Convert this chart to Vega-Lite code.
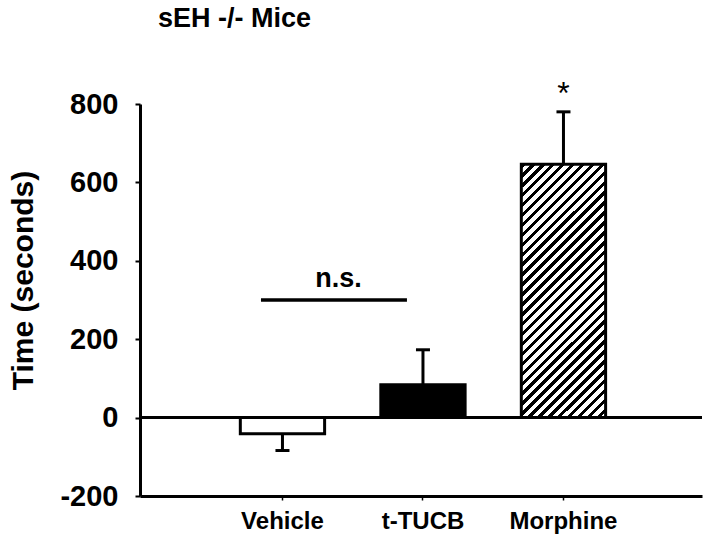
{
"$schema": "https://vega.github.io/schema/vega-lite/v6.json",
"width": 562,
"height": 392,
"autosize": "none",
"padding": {"left": 140, "top": 104, "right": 12, "bottom": 48},
"background": "white",
"title": {"text": "sEH -/- Mice", "anchor": "start", "frame": "group", "dx": 18, "offset": 24, "baseline": "alphabetic", "fontSize": 27, "font": "Liberation Sans", "fontWeight": "bold", "color": "black"},
"config": {
  "view": {"stroke": null},
  "axis": {"grid": false, "domainColor": "black", "tickColor": "black", "labelColor": "black", "titleColor": "black", "labelFont": "Liberation Sans", "titleFont": "Liberation Sans"}
},
"data": {"values": [
  {"group": "Vehicle", "time": -41, "err": -84},
  {"group": "t-TUCB", "time": 84, "err": 173},
  {"group": "Morphine", "time": 646, "err": 780}
]},
"layer": [
  {
    "transform": [{"filter": "datum.group !== 'Morphine'"}],
    "mark": {"type": "bar", "stroke": "black", "strokeWidth": 3},
    "encoding": {
      "x": {"field": "group", "type": "nominal", "title": null, "sort": ["Vehicle", "t-TUCB", "Morphine"],
        "scale": {"domain": ["Vehicle", "t-TUCB", "Morphine"], "paddingInner": 0.4, "paddingOuter": 0.7, "align": 0.51},
        "axis": {"labelFontSize": 24, "labelFontWeight": "bold", "labelPadding": 9, "tickSize": 4, "tickWidth": 1.5, "domainWidth": 3, "labelAngle": 0}},
      "y": {"field": "time", "type": "quantitative", "title": "Time (seconds)",
        "scale": {"domain": [-200, 800], "nice": false, "zero": false},
        "axis": {"values": [-200, 0, 200, 400, 600, 800], "labelExpr": "'' + datum.value", "labelFontSize": 29, "labelFontWeight": "bold", "labelPadding": 17, "tickSize": 5, "tickWidth": 2, "domainWidth": 3, "titleFontSize": 30, "titleFontWeight": "bold", "titleX": -108, "titleY": 176, "titleAngle": 270, "titleBaseline": "alphabetic", "titleAlign": "center"}},
      "fill": {"field": "group", "type": "nominal", "scale": {"domain": ["Vehicle", "t-TUCB"], "range": ["white", "black"]}, "legend": null}
    }
  },
  {
    "transform": [{"filter": "datum.group === 'Morphine'"}],
    "mark": {"type": "bar", "stroke": "black", "strokeWidth": 3,
      "fill": {"gradient": "linear", "x1": 0, "y1": 0, "x2": 0.3988, "y2": 1.1998, "stops": [
        {"offset":0,"color":"#000"},{"offset":0.01324,"color":"#000"},{"offset":0.01324,"color":"#fff"},{"offset":0.02941,"color":"#fff"},
        {"offset":0.02941,"color":"#000"},{"offset":0.04265,"color":"#000"},{"offset":0.04265,"color":"#fff"},{"offset":0.05882,"color":"#fff"},
        {"offset":0.05882,"color":"#000"},{"offset":0.07206,"color":"#000"},{"offset":0.07206,"color":"#fff"},{"offset":0.08824,"color":"#fff"},
        {"offset":0.08824,"color":"#000"},{"offset":0.10148,"color":"#000"},{"offset":0.10148,"color":"#fff"},{"offset":0.11765,"color":"#fff"},
        {"offset":0.11765,"color":"#000"},{"offset":0.13089,"color":"#000"},{"offset":0.13089,"color":"#fff"},{"offset":0.14706,"color":"#fff"},
        {"offset":0.14706,"color":"#000"},{"offset":0.1603,"color":"#000"},{"offset":0.1603,"color":"#fff"},{"offset":0.17647,"color":"#fff"},
        {"offset":0.17647,"color":"#000"},{"offset":0.18971,"color":"#000"},{"offset":0.18971,"color":"#fff"},{"offset":0.20588,"color":"#fff"},
        {"offset":0.20588,"color":"#000"},{"offset":0.21912,"color":"#000"},{"offset":0.21912,"color":"#fff"},{"offset":0.23529,"color":"#fff"},
        {"offset":0.23529,"color":"#000"},{"offset":0.24853,"color":"#000"},{"offset":0.24853,"color":"#fff"},{"offset":0.26471,"color":"#fff"},
        {"offset":0.26471,"color":"#000"},{"offset":0.27795,"color":"#000"},{"offset":0.27795,"color":"#fff"},{"offset":0.29412,"color":"#fff"},
        {"offset":0.29412,"color":"#000"},{"offset":0.30736,"color":"#000"},{"offset":0.30736,"color":"#fff"},{"offset":0.32353,"color":"#fff"},
        {"offset":0.32353,"color":"#000"},{"offset":0.33677,"color":"#000"},{"offset":0.33677,"color":"#fff"},{"offset":0.35294,"color":"#fff"},
        {"offset":0.35294,"color":"#000"},{"offset":0.36618,"color":"#000"},{"offset":0.36618,"color":"#fff"},{"offset":0.38235,"color":"#fff"},
        {"offset":0.38235,"color":"#000"},{"offset":0.39559,"color":"#000"},{"offset":0.39559,"color":"#fff"},{"offset":0.41176,"color":"#fff"},
        {"offset":0.41176,"color":"#000"},{"offset":0.425,"color":"#000"},{"offset":0.425,"color":"#fff"},{"offset":0.44118,"color":"#fff"},
        {"offset":0.44118,"color":"#000"},{"offset":0.45442,"color":"#000"},{"offset":0.45442,"color":"#fff"},{"offset":0.47059,"color":"#fff"},
        {"offset":0.47059,"color":"#000"},{"offset":0.48383,"color":"#000"},{"offset":0.48383,"color":"#fff"},{"offset":0.5,"color":"#fff"},
        {"offset":0.5,"color":"#000"},{"offset":0.51324,"color":"#000"},{"offset":0.51324,"color":"#fff"},{"offset":0.52941,"color":"#fff"},
        {"offset":0.52941,"color":"#000"},{"offset":0.54265,"color":"#000"},{"offset":0.54265,"color":"#fff"},{"offset":0.55882,"color":"#fff"},
        {"offset":0.55882,"color":"#000"},{"offset":0.57206,"color":"#000"},{"offset":0.57206,"color":"#fff"},{"offset":0.58824,"color":"#fff"},
        {"offset":0.58824,"color":"#000"},{"offset":0.60148,"color":"#000"},{"offset":0.60148,"color":"#fff"},{"offset":0.61765,"color":"#fff"},
        {"offset":0.61765,"color":"#000"},{"offset":0.63089,"color":"#000"},{"offset":0.63089,"color":"#fff"},{"offset":0.64706,"color":"#fff"},
        {"offset":0.64706,"color":"#000"},{"offset":0.6603,"color":"#000"},{"offset":0.6603,"color":"#fff"},{"offset":0.67647,"color":"#fff"},
        {"offset":0.67647,"color":"#000"},{"offset":0.68971,"color":"#000"},{"offset":0.68971,"color":"#fff"},{"offset":0.70588,"color":"#fff"},
        {"offset":0.70588,"color":"#000"},{"offset":0.71912,"color":"#000"},{"offset":0.71912,"color":"#fff"},{"offset":0.73529,"color":"#fff"},
        {"offset":0.73529,"color":"#000"},{"offset":0.74853,"color":"#000"},{"offset":0.74853,"color":"#fff"},{"offset":0.76471,"color":"#fff"},
        {"offset":0.76471,"color":"#000"},{"offset":0.77795,"color":"#000"},{"offset":0.77795,"color":"#fff"},{"offset":0.79412,"color":"#fff"},
        {"offset":0.79412,"color":"#000"},{"offset":0.80736,"color":"#000"},{"offset":0.80736,"color":"#fff"},{"offset":0.82353,"color":"#fff"},
        {"offset":0.82353,"color":"#000"},{"offset":0.83677,"color":"#000"},{"offset":0.83677,"color":"#fff"},{"offset":0.85294,"color":"#fff"},
        {"offset":0.85294,"color":"#000"},{"offset":0.86618,"color":"#000"},{"offset":0.86618,"color":"#fff"},{"offset":0.88235,"color":"#fff"},
        {"offset":0.88235,"color":"#000"},{"offset":0.89559,"color":"#000"},{"offset":0.89559,"color":"#fff"},{"offset":0.91176,"color":"#fff"},
        {"offset":0.91176,"color":"#000"},{"offset":0.925,"color":"#000"},{"offset":0.925,"color":"#fff"},{"offset":0.94118,"color":"#fff"},
        {"offset":0.94118,"color":"#000"},{"offset":0.95442,"color":"#000"},{"offset":0.95442,"color":"#fff"},{"offset":0.97059,"color":"#fff"},
        {"offset":0.97059,"color":"#000"},{"offset":0.98383,"color":"#000"},{"offset":0.98383,"color":"#fff"},{"offset":1,"color":"#fff"}
      ]}},
    "encoding": {
      "x": {"field": "group", "type": "nominal", "title": null, "sort": ["Vehicle", "t-TUCB", "Morphine"]},
      "y": {"field": "time", "type": "quantitative", "title": "Time (seconds)"}
    }
  },
  {
    "data": {"values": [{"time": 0}]},
    "mark": {"type": "rule", "strokeWidth": 3, "color": "black"},
    "encoding": {"y": {"field": "time", "type": "quantitative", "title": "Time (seconds)"}}
  },
  {
    "mark": {"type": "rule", "strokeWidth": 3, "color": "black"},
    "encoding": {
      "x": {"field": "group", "type": "nominal", "title": null, "sort": ["Vehicle", "t-TUCB", "Morphine"]},
      "y": {"field": "time", "type": "quantitative", "title": "Time (seconds)"},
      "y2": {"field": "err"}
    }
  },
  {
    "mark": {"type": "tick", "thickness": 3, "size": 14, "color": "black", "opacity": 1},
    "encoding": {
      "x": {"field": "group", "type": "nominal", "title": null, "sort": ["Vehicle", "t-TUCB", "Morphine"]},
      "y": {"field": "err", "type": "quantitative", "title": "Time (seconds)"}
    }
  },
  {
    "data": {"values": [{"from": "Vehicle", "to": "t-TUCB", "time": 300, "label": "n.s."}]},
    "layer": [
      {
        "mark": {"type": "rule", "strokeWidth": 3.5, "color": "black"},
        "encoding": {
          "x": {"field": "from", "type": "nominal", "title": null, "bandPosition": 0.245},
          "x2": {"field": "to", "bandPosition": 0.31},
          "y": {"field": "time", "type": "quantitative", "title": "Time (seconds)"}
        }
      },
      {
        "mark": {"type": "text", "font": "Liberation Sans", "fontWeight": "bold", "fontSize": 27, "baseline": "alphabetic", "align": "center", "dy": -13, "color": "black"},
        "encoding": {
          "x": {"field": "from", "type": "nominal", "title": null, "bandPosition": 1.165},
          "y": {"field": "time", "type": "quantitative", "title": "Time (seconds)"},
          "text": {"field": "label"}
        }
      }
    ]
  },
  {
    "transform": [{"filter": "datum.group === 'Morphine'"}],
    "mark": {"type": "text", "font": "Liberation Sans", "fontSize": 32, "baseline": "alphabetic", "align": "center", "dy": -8, "color": "black", "text": "*"},
    "encoding": {
      "x": {"field": "group", "type": "nominal", "title": null, "sort": ["Vehicle", "t-TUCB", "Morphine"]},
      "y": {"field": "err", "type": "quantitative", "title": "Time (seconds)"}
    }
  }
]
}
